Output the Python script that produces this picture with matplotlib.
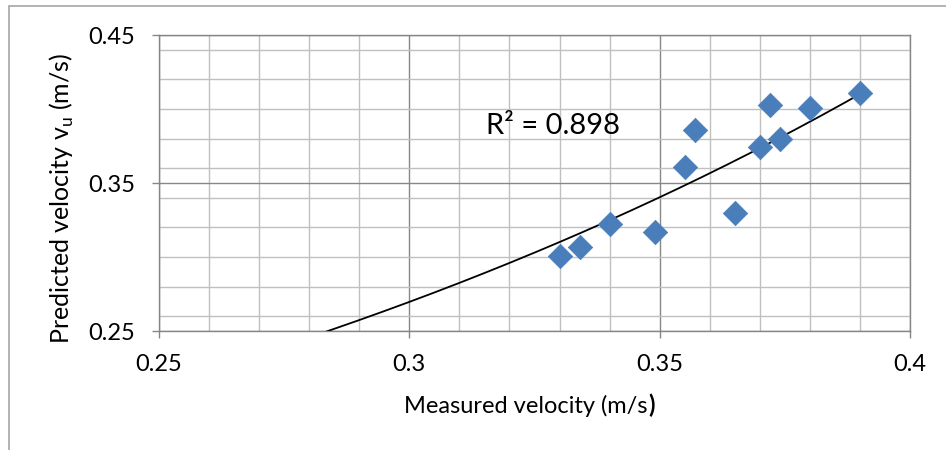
import numpy as np
import matplotlib
matplotlib.use("Agg")
import matplotlib.pyplot as plt
from matplotlib.ticker import MultipleLocator, FixedLocator
from matplotlib.patches import Rectangle

measured = [0.330, 0.334, 0.340, 0.349, 0.355, 0.357, 0.365, 0.370, 0.372, 0.374, 0.380, 0.390]
predicted = [0.301, 0.307, 0.322, 0.317, 0.361, 0.386, 0.330, 0.374, 0.403, 0.380, 0.401, 0.411]
x_ticks = [0.25, 0.3, 0.35, 0.4]
x_tick_labels = ["0.25", "0.3", "0.35", "0.4"]
y_ticks = [0.25, 0.35, 0.45]
y_tick_labels = ["0.25", "0.35", "0.45"]
r2_label = "R² = 0.898"
# exponential trendline y = a * exp(b * x)
trend_a = 0.06669
trend_b = 4.657
trend_x_range = [0.25, 0.39]

plt.rcParams['font.family'] = ['Lato', 'DejaVu Sans']

fig = plt.figure(figsize=(9.46, 4.5), dpi=100)
fig.patches.append(Rectangle((9 / 946, -0.1), 2.0, (450 - 6) / 450 + 0.1,
                             transform=fig.transFigure, fill=False,
                             edgecolor='#a6a6a6', linewidth=1.2))
ax = fig.add_axes([159 / 946, 1 - 331 / 450, (910 - 159) / 946, (331 - 35) / 450])

ax.set_xlim(0.25, 0.4)
ax.set_ylim(0.25, 0.45)

ax.xaxis.set_major_locator(FixedLocator(x_ticks))
ax.yaxis.set_major_locator(FixedLocator(y_ticks))
ax.xaxis.set_minor_locator(MultipleLocator(0.01))
ax.yaxis.set_minor_locator(MultipleLocator(0.02))
ax.grid(which='minor', color='#c0c0c0', linewidth=1.0)
ax.grid(which='major', color='#878787', linewidth=1.0)
ax.set_axisbelow(True)
ax.set_xticklabels(x_tick_labels)
ax.set_yticklabels(y_tick_labels)
ax.tick_params(which='minor', length=0)
ax.tick_params(which='major', length=5, color='#868686', width=1.0,
               labelsize=17, labelcolor='black')
ax.tick_params(axis='y', pad=12)
ax.tick_params(axis='x', pad=11.5)
for s in ax.spines.values():
    s.set_color('#868686')
    s.set_linewidth(1.0)

xs = np.linspace(trend_x_range[0], trend_x_range[1], 300)
ax.plot(xs, trend_a * np.exp(trend_b * xs), color='black', linewidth=1.3, zorder=3)

ax.scatter(measured, predicted, marker='D', s=155, color='#4a7ebb',
           edgecolors='#4a7ebb', linewidths=0.5, zorder=4)

ax.text(0.3154, 0.3831, r2_label, fontsize=21, ha='left', va='baseline')

fig.text(62 / 946, 1 - 198 / 450, r"Predicted velocity v$_\mathregular{u}$ (m/s)",
         fontsize=18, rotation=90, ha='center', va='center')

fig.canvas.draw()
t1 = fig.text(404 / 946, 1 - 413 / 450, "Measured velocity (m/s", fontsize=17,
              ha='left', va='baseline')
bb = t1.get_window_extent(fig.canvas.get_renderer())
fig.text(bb.x1 / 946 + 0.5 / 946, 1 - 413 / 450, ")", fontsize=17, fontweight='bold',
         ha='left', va='baseline')

fig.savefig("out.png", dpi=100)
